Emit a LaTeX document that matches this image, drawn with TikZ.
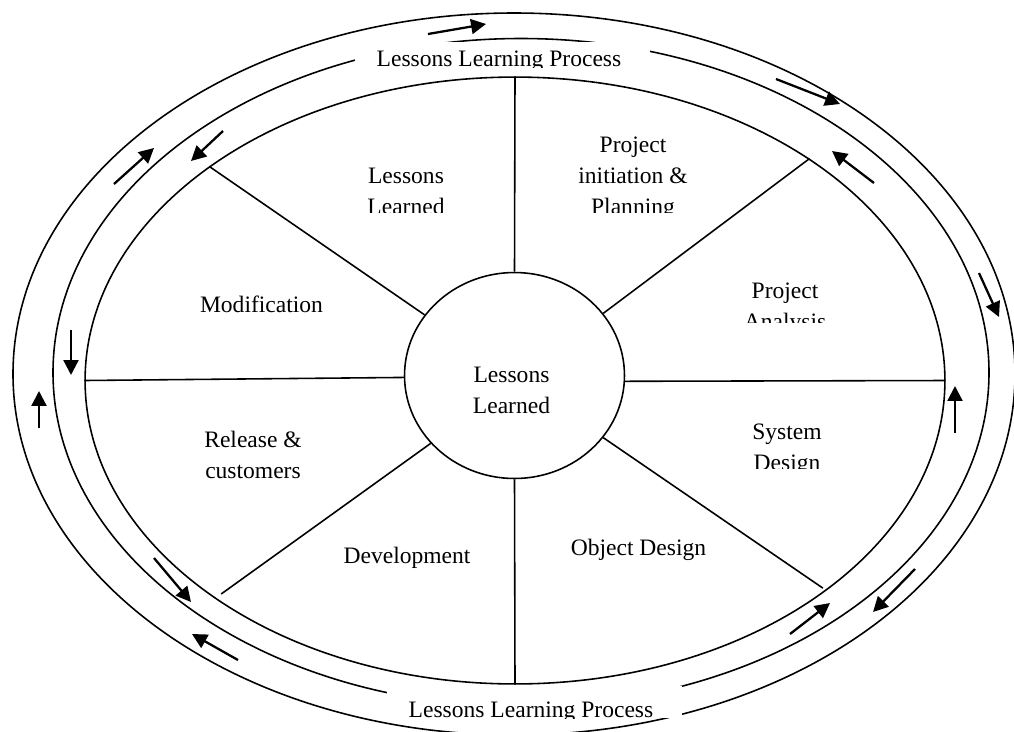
\documentclass[tikz,border=0pt]{standalone}
\usepackage{fontspec}
\setmainfont{Liberation Serif}
\usetikzlibrary{shapes.geometric,arrows.meta}

\begin{document}
\begin{tikzpicture}[x=0.02cm,y=-0.02cm,
  ring/.style={line width=0.9pt},
  spoke/.style={line width=0.9pt},
  flow/.style={line width=1.3pt,-{Triangle[length=8.5pt,width=8.5pt]}},
  lbl/.style={font=\fontsize{13.4}{17.6}\selectfont,align=center,inner sep=0pt,anchor=base}]

\useasboundingbox (0,0) rectangle (1014,731);

% the three rings
\draw[ring] (514,374) ellipse [x radius=501, y radius=361];
\draw[ring] (521,372.5) ellipse [x radius=468, y radius=334];
\node[ring,draw,ellipse,inner sep=0pt,minimum width=17.2cm,minimum height=12.14cm] (rim) at (515,380.5) {};

% hub in the middle
\node[ring,draw,ellipse,inner sep=0pt,minimum width=4.4cm,minimum height=4.12cm] (hub) at (514.5,375.5) {};
\node[lbl] (hubtext) at (511.5,413) {Lessons\\Learned};

% spokes
\draw[spoke] (hub.90) -- (rim.90);
\draw[spoke] (hub.35) -- (rim.37);
\draw[spoke] (hub.357) -- (rim.0);
\draw[spoke,shorten >=2.5pt] (hub.325) -- (rim.326);
\draw[spoke] (hub.270) -- (rim.270);
\draw[spoke,shorten >=4.5pt] (hub.219) -- (rim.216);
\draw[spoke] (hub.181) -- (rim.180);
\draw[spoke] (hub.146) -- (rim.145);

% titles on the outer lane
\begin{scope}
\clip (355,42) rectangle (650,67);
\fill[white] (355,42) rectangle (650,67);
\node[lbl] (toptitle) at (499,66) {Lessons Learning Process};
\end{scope}
\begin{scope}
\clip (387,686) rectangle (682,718);
\fill[white] (387,686) rectangle (682,718);
\node[lbl] (bottomtitle) at (531,717) {Lessons Learning Process};
\end{scope}

% sector texts
\begin{scope}
\clip (340,150) rectangle (470,212);
\node[lbl] (lessons) at (406,214) {Lessons\\Learned};
\end{scope}
\begin{scope}
\clip (560,120) rectangle (710,212);
\node[lbl] (planning) at (633,214) {Project\\initiation \&\\Planning};
\end{scope}
\begin{scope}
\clip (730,270) rectangle (840,322);
\node[lbl] (analysis) at (785,329) {Project\\Analysis};
\end{scope}
\begin{scope}
\clip (735,410) rectangle (840,468);
\node[lbl] (sysdesign) at (787,470) {System\\Design};
\end{scope}
\node[lbl] (objdesign) at (638.5,555) {Object Design};
\node[lbl] (development) at (407,563) {Development};
\node[lbl] (release) at (253,478) {Release \&\\customers};
\node[lbl] (modification) at (261.5,312) {Modification};

% outer lane, clockwise
\draw[flow] (428,34) -- (486,24);
\draw[flow] (776,79) -- (840,104);
\draw[flow] (979,273) -- (999,317);
\draw[flow] (915,569) -- (873,612);
\draw[flow] (238,660) -- (192,634);
\draw[flow] (39,428) -- (39,391);
\draw[flow] (114,184) -- (154,148);

% inner lane, anticlockwise
\draw[flow] (223,131) -- (191,161);
\draw[flow] (71,330) -- (71,375);
\draw[flow] (154,558) -- (191,602);
\draw[flow] (790,634) -- (830,603);
\draw[flow] (955,433) -- (955,386);
\draw[flow] (874,183) -- (832,151);

\end{tikzpicture}
\end{document}
